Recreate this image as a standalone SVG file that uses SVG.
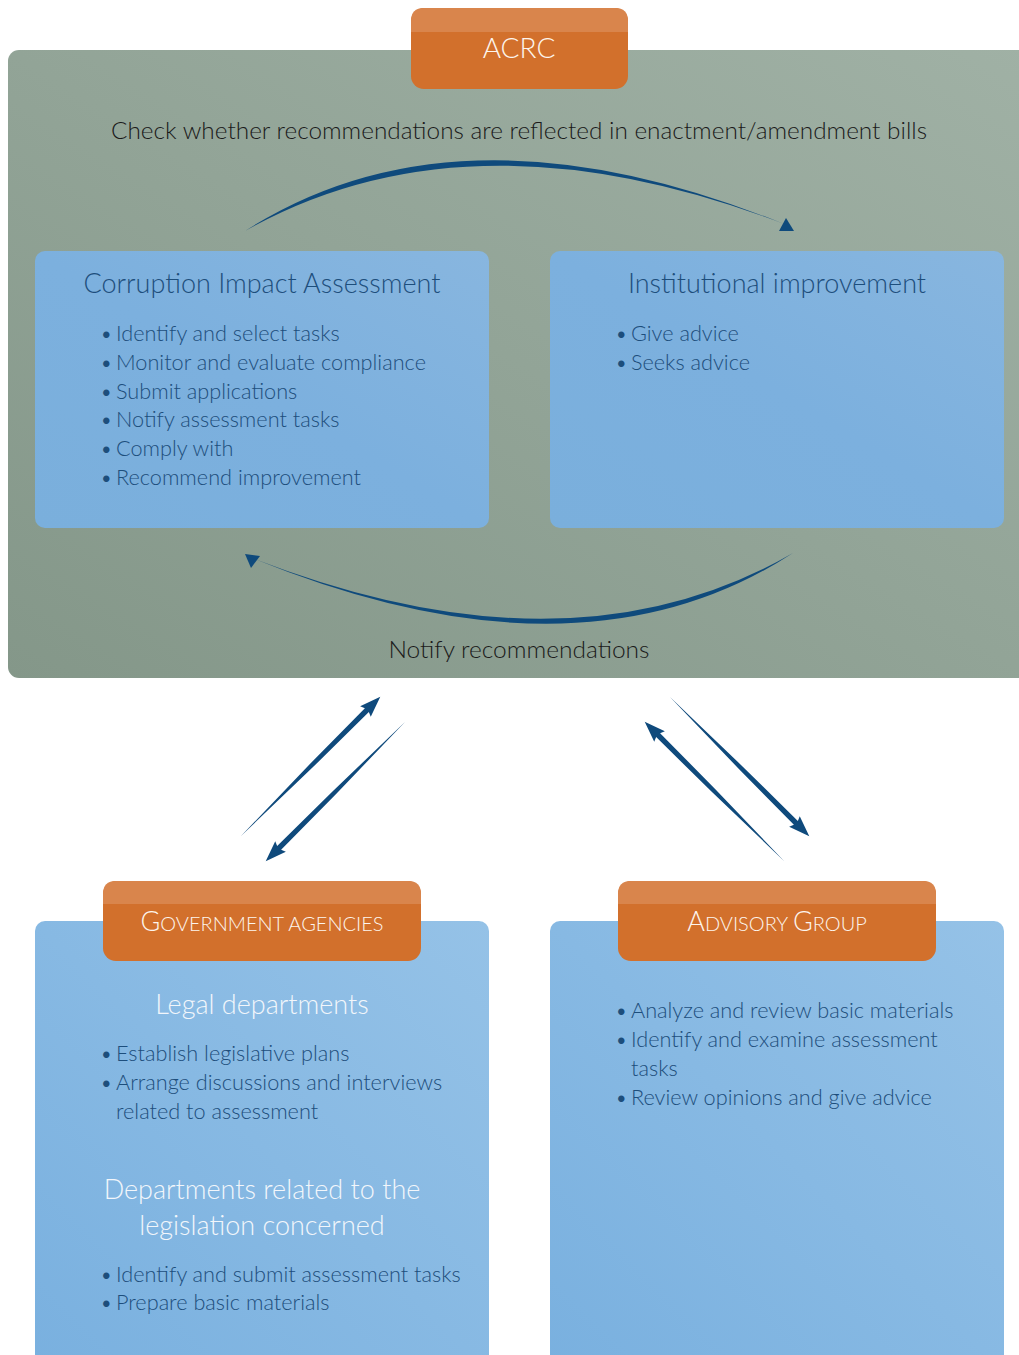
<svg xmlns="http://www.w3.org/2000/svg" xmlns:xlink="http://www.w3.org/1999/xlink" width="1019" height="1355" viewBox="0 0 1019 1355">
<defs>
<linearGradient id="grey" x1="0" y1="1" x2="1" y2="0">
<stop offset="0" stop-color="#849789"/>
<stop offset="1" stop-color="#a0b1a5"/>
</linearGradient>
<linearGradient id="blue" x1="0" y1="1" x2="1" y2="0">
<stop offset="0" stop-color="#7aafdc"/>
<stop offset="0.5" stop-color="#7cb0de"/>
<stop offset="1" stop-color="#88b6df"/>
</linearGradient>
<linearGradient id="blue2" x1="0" y1="1" x2="1" y2="0">
<stop offset="0" stop-color="#79b0df"/>
<stop offset="1" stop-color="#95c2e7"/>
</linearGradient>
<path id="diag" d="M0,0 L100,-2.2 L178,-2.8 L176,-7.5 L197,0 L176,7.5 L178,2.8 L100,2.2 Z"/>
<style>
text{font-family:Lato,"Open Sans","Liberation Sans",sans-serif;font-weight:300}
.lbl{font-size:23px;fill:#1a1a1a;text-anchor:middle}
.ttl{font-size:27px;fill:#1d4e7c;text-anchor:middle}
.wttl{font-size:27px;fill:#f2f6fb;text-anchor:middle}
.it{font-size:21.7px;fill:#1d4e7c}
.tab{font-size:28px;fill:#fdf5ee;text-anchor:middle}
.arr{fill:#0f4a7c}
</style>
</defs>

<g id="acrc-panel">
<rect x="8" y="50" width="1030" height="628" rx="11" fill="url(#grey)"/>
<text class="lbl" x="519" y="139" textLength="816" lengthAdjust="spacingAndGlyphs">Check whether recommendations are reflected in enactment/amendment bills</text>
<text class="lbl" x="519" y="658" textLength="261" lengthAdjust="spacingAndGlyphs">Notify recommendations</text>
</g>

<g id="acrc">
<rect x="411" y="8" width="217" height="81" rx="13" fill="#d2702c"/>
<path d="M411,32 L411,21 Q411,8 424,8 L615,8 Q628,8 628,21 L628,32 Z" fill="#d9854c"/>
<text class="tab" x="519" y="58">ACRC</text>
</g>

<g id="cia">
<rect x="35" y="251" width="454" height="277" rx="10" fill="url(#blue)"/>
<text class="ttl" x="262" y="293">Corruption Impact Assessment</text>
<text class="it" x="100" y="341">•</text><text class="it" x="116" y="341">Identify and select tasks</text>
<text class="it" x="100" y="370">•</text><text class="it" x="116" y="370">Monitor and evaluate compliance</text>
<text class="it" x="100" y="399">•</text><text class="it" x="116" y="399">Submit applications</text>
<text class="it" x="100" y="427">•</text><text class="it" x="116" y="427">Notify assessment tasks</text>
<text class="it" x="100" y="456">•</text><text class="it" x="116" y="456">Comply with</text>
<text class="it" x="100" y="485">•</text><text class="it" x="116" y="485">Recommend improvement</text>
</g>

<g id="institutional">
<rect x="550" y="251" width="454" height="277" rx="10" fill="url(#blue)"/>
<text class="ttl" x="777" y="293">Institutional improvement</text>
<text class="it" x="615" y="341">•</text><text class="it" x="631" y="341">Give advice</text>
<text class="it" x="615" y="370">•</text><text class="it" x="631" y="370">Seeks advice</text>
</g>

<g id="government">
<rect x="35" y="921" width="454" height="450" rx="10" fill="url(#blue2)"/>
<rect x="103" y="881" width="318" height="80" rx="13" fill="#d2702c"/>
<path d="M103,904 L103,894 Q103,881 116,881 L408,881 Q421,881 421,894 L421,904 Z" fill="#d9854c"/>
<text class="tab" x="262" y="931" style="font-size:27px">G<tspan style="font-size:20px">OVERNMENT AGENCIES</tspan></text>
<text class="wttl" x="262" y="1014">Legal departments</text>
<text class="it" x="100" y="1061">•</text><text class="it" x="116" y="1061">Establish legislative plans</text>
<text class="it" x="100" y="1090">•</text><text class="it" x="116" y="1090">Arrange discussions and interviews</text>
<text class="it" x="116" y="1119">related to assessment</text>
<text class="wttl" x="262" y="1199">Departments related to the</text>
<text class="wttl" x="262" y="1235">legislation concerned</text>
<text class="it" x="100" y="1282">•</text><text class="it" x="116" y="1282">Identify and submit assessment tasks</text>
<text class="it" x="100" y="1310">•</text><text class="it" x="116" y="1310">Prepare basic materials</text>
</g>

<g id="advisory">
<rect x="550" y="921" width="454" height="450" rx="10" fill="url(#blue2)"/>
<rect x="618" y="881" width="318" height="80" rx="13" fill="#d2702c"/>
<path d="M618,904 L618,894 Q618,881 631,881 L923,881 Q936,881 936,894 L936,904 Z" fill="#d9854c"/>
<text class="tab" x="777" y="931" style="font-size:27px">A<tspan style="font-size:20px">DVISORY </tspan>G<tspan style="font-size:20px">ROUP</tspan></text>
<text class="it" x="615" y="1018">•</text><text class="it" x="631" y="1018">Analyze and review basic materials</text>
<text class="it" x="615" y="1047">•</text><text class="it" x="631" y="1047">Identify and examine assessment</text>
<text class="it" x="631" y="1076">tasks</text>
<text class="it" x="615" y="1105">•</text><text class="it" x="631" y="1105">Review opinions and give advice</text>
</g>

<g id="connectors">
<path class="arr" d="M245,231 Q460,93 784,224 Q470,104 245,231 Z"/>
<polygon class="arr" points="786,218 779,231 794,231"/>
<path class="arr" d="M793,553 Q580,692 252,558 Q570,682 793,553 Z"/>
<polygon class="arr" points="245,554 260,556 251,568"/>
<use xlink:href="#diag" class="arr" transform="translate(241,836) rotate(-45)"/>
<use xlink:href="#diag" class="arr" transform="translate(405,722) rotate(135)"/>
<use xlink:href="#diag" class="arr" transform="translate(784,861) rotate(-135)"/>
<use xlink:href="#diag" class="arr" transform="translate(670,697) rotate(45)"/>
</g>
</svg>
